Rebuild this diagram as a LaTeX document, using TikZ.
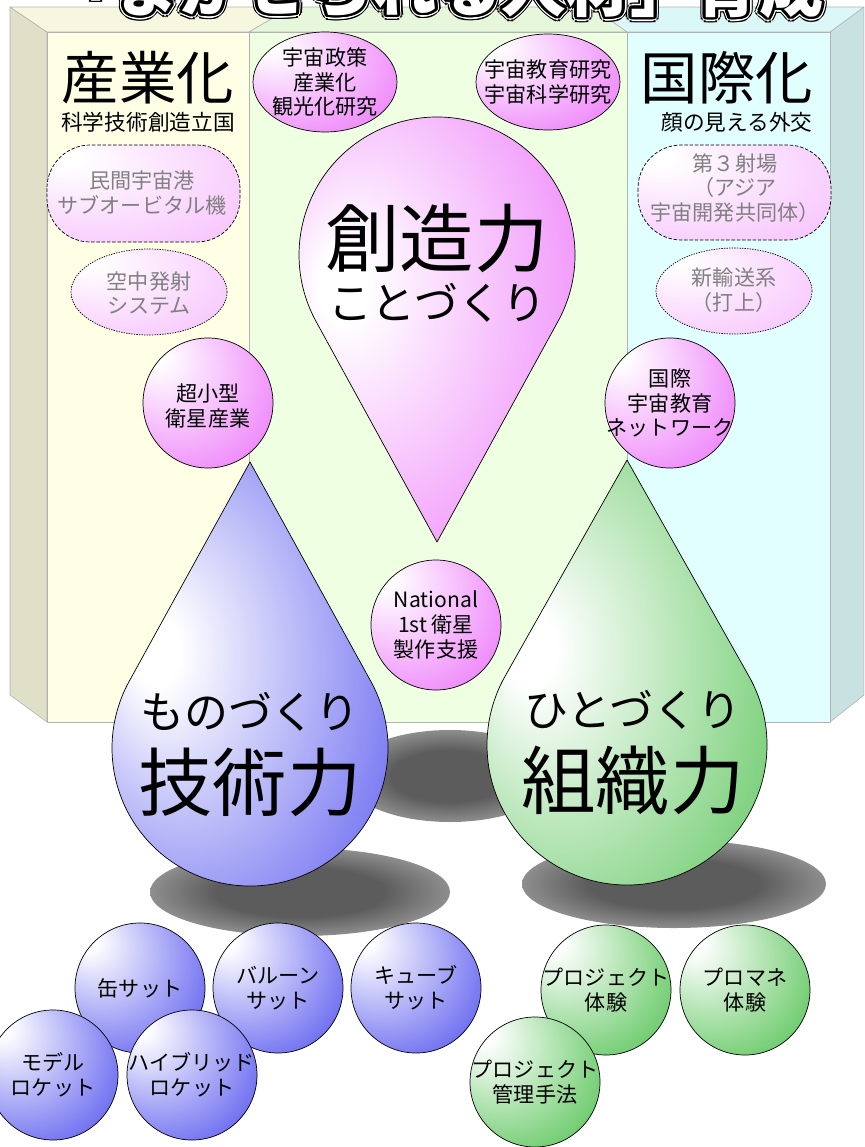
\documentclass[tikz,border=0pt]{standalone}
\usepackage{fontspec}
\setmainfont{Noto Sans CJK JP}

\definecolor{pinkball}{RGB}{238,130,250}
\definecolor{blueball}{RGB}{100,100,240}
\definecolor{greenball}{RGB}{100,200,100}
\definecolor{leftface}{RGB}{255,255,230}
\definecolor{midface}{RGB}{238,255,226}
\definecolor{rightface}{RGB}{226,255,255}
\definecolor{leftside}{RGB}{224,224,200}
\definecolor{rightside}{RGB}{200,226,226}

\newcommand{\lblfont}{\fontsize{18}{21}\selectfont}
\newcommand{\subheadfont}{\fontsize{18.5}{22}\selectfont}
\newcommand{\headfont}{\fontsize{49}{55}\selectfont}
\newcommand{\powerfont}{\fontsize{63.5}{70}\selectfont}
\newcommand{\kanafont}{\fontsize{37.5}{42}\selectfont}
\newcommand{\titlefont}{\fontsize{55}{60}\selectfont\bfseries}

\pgfdeclareradialshading[gloss]{glossball}{\pgfpoint{-22bp}{20bp}}{color(0bp)=(white); color(4bp)=(white); color(40bp)=(gloss); color(62bp)=(gloss)}
\pgfdeclareradialshading[gloss]{glossdrop}{\pgfpoint{-18bp}{4bp}}{color(0bp)=(white); color(4bp)=(white); color(38bp)=(gloss); color(60bp)=(gloss)}
\pgfdeclareradialshading{blurshadow}{\pgfpointorigin}{color(0bp)=(black!64); color(14bp)=(black!64); color(50bp)=(white); color(60bp)=(white)}

\begin{document}
\begin{tikzpicture}[x=0.03cm, y=-0.03cm, line join=round]
    \tikzset{
        panel/.style={draw=black!30, line width=0.5pt},
        glossy/.style={/utils/exec={\colorlet{gloss}{#1}}, shade, shading=glossball, draw=black, line width=0.6pt},
        dropfill/.style={/utils/exec={\colorlet{gloss}{#1}}, shade, shading=glossdrop, draw=black, line width=0.6pt},
        idea/.style={glossy=pinkball!45!white, dash pattern=on 3pt off 1.5pt},
        ideadot/.style={glossy=pinkball!45!white, dash pattern=on 1.2pt off 1pt},
        blur/.style={shade, shading=blurshadow},
        lbl/.style={align=center, font=\lblfont, inner sep=0pt},
        ghost/.style={lbl, text=black!50},
        titletxt/.style={font=\titlefont, anchor=base, inner sep=0pt},
    }
    \useasboundingbox (0,0) rectangle (864,1147);
    \clip (0,0) rectangle (864,1147);

    % box behind
    \filldraw[panel, fill=leftside] (10,7) -- (47,32) -- (47,722) -- (10,695) -- cycle;
    \filldraw[panel, fill=rightside] (864,7) -- (830,32) -- (830,722) -- (864,695) -- cycle;
    \filldraw[panel, fill=leftface!97!black] (10,7) -- (292,7) -- (249,32) -- (47,32) -- cycle;
    \filldraw[panel, fill=midface!97!black] (292,7) -- (592,7) -- (627,32) -- (249,32) -- cycle;
    \filldraw[panel, fill=rightface!97!black] (592,7) -- (864,7) -- (830,32) -- (627,32) -- cycle;
    \filldraw[panel, fill=leftface] (47,32) rectangle (249,722);
    \filldraw[panel, fill=midface] (249,32) rectangle (627,722);
    \filldraw[panel, fill=rightface] (627,32) rectangle (830,722);

    % title
    \foreach \r/\c in {5.5/black, 4.3/white, 3/black}
        \foreach \a in {0,22.5,...,337.5}
            \node[titletxt, text=\c, shift={(\a:\r)}] at (437,11) {「まかせられる人材」育成};
    \node[titletxt, text=white] (title) at (437,11) {「まかせられる人材」育成};

    \node[font=\headfont, inner sep=0pt] (sangyo) at (148,78) {産業化};
    \node[font=\subheadfont, inner sep=0pt] (rikkoku) at (148,122) {科学技術創造立国};
    \node[font=\headfont, inner sep=0pt] (kokusai) at (727,78) {国際化};
    \node[font=\subheadfont, inner sep=0pt] (gaikou) at (737,122) {顔の見える外交};

    % shadows
    \path[blur] (450,776) ellipse[x radius=105, y radius=46];
    \path[blur] (300,892) ellipse[x radius=150, y radius=44];
    \path[blur] (674,884) ellipse[x radius=152, y radius=44];

    % creativity drop
    \path[dropfill=pinkball, shift={(437,255)}] (0,287) -- (28.7:138) arc[start angle=28.7, end angle=-208.7, radius=138] -- cycle;
    \node[font=\powerfont, inner sep=0pt] (souzou) at (437,238) {創造力};
    \node[font=\kanafont, inner sep=0pt] (kotodukuri) at (437,303) {ことづくり};

    \path[glossy=pinkball] (325,82) ellipse[x radius=72, y radius=50];
    \node[lbl] (seisaku) at (325,82) {宇宙政策\\産業化\\観光化研究};
    \path[glossy=pinkball] (548,82) ellipse[x radius=72, y radius=48];
    \node[lbl] (kyouiku) at (548,82) {宇宙教育研究\\宇宙科学研究};

    \path[idea, rounded corners=1.3cm] (47,145) rectangle (240,242);
    \node[ghost] (minkan) at (142,193) {民間宇宙港\\サブオービタル機};
    \path[ideadot] (149,292) ellipse[x radius=78, y radius=43];
    \node[ghost] (kuuchuu) at (149,293) {空中発射\\システム};
    \path[idea, rounded corners=1.3cm] (638,145) rectangle (831,240);
    \node[ghost] (shajou) at (735,188) {第３射場\\（アジア\\宇宙開発共同体）};
    \path[ideadot] (734,291) ellipse[x radius=78, y radius=43];
    \node[ghost] (yusou) at (734,290) {新輸送系\\（打上）};

    % technology and organisation drops
    \path[dropfill=blueball, shift={(250,748)}] (0,-286) -- (-28.8:138) arc[start angle=-28.8, end angle=208.8, radius=138] -- cycle;
    \node[font=\kanafont, inner sep=0pt] (monodukuri) at (250,712) {ものづくり};
    \node[font=\powerfont, inner sep=0pt] (gijutsu) at (250,782) {技術力};

    \path[dropfill=greenball, shift={(627,745)}] (0,-285) -- (-29.4:140) arc[start angle=-29.4, end angle=209.4, radius=140] -- cycle;
    \node[font=\kanafont, inner sep=0pt] (hitodukuri) at (633,710) {ひとづくり};
    \node[font=\powerfont, inner sep=0pt] (soshiki) at (633,780) {組織力};

    \path[glossy=pinkball] (208,403) circle[radius=65];
    \node[lbl] (chokogata) at (208,406) {超小型\\衛星産業};
    \path[glossy=pinkball] (670,403) circle[radius=65];
    \node[lbl] (network) at (670,403) {国際\\宇宙教育\\ネットワーク};
    \path[glossy=pinkball] (436,625) circle[radius=65];
    \node[lbl] (national) at (436,625) {National\\1st 衛星\\製作支援};

    % small projects
    \foreach \nm/\cx/\cy/\txt in {can/140/988/缶サット, balloon/278/988/{バルーン\\サット},
            cube/416/988/{キューブ\\サット}, model/53/1075/{モデル\\ロケット},
            hybrid/192/1075/{ハイブリッド\\ロケット}} {
        \path[glossy=blueball] (\cx,\cy) circle[radius=65];
        \node[lbl] (\nm) at (\cx,\cy) {\txt};
    }
    \foreach \nm/\cx/\cy/\txt in {taiken/606/990/{プロジェクト\\体験}, promane/745/990/{プロマネ\\体験},
            kanri/535/1082/{プロジェクト\\管理手法}} {
        \path[glossy=greenball] (\cx,\cy) circle[radius=65];
        \node[lbl] (\nm) at (\cx,\cy) {\txt};
    }
\end{tikzpicture}
\end{document}
